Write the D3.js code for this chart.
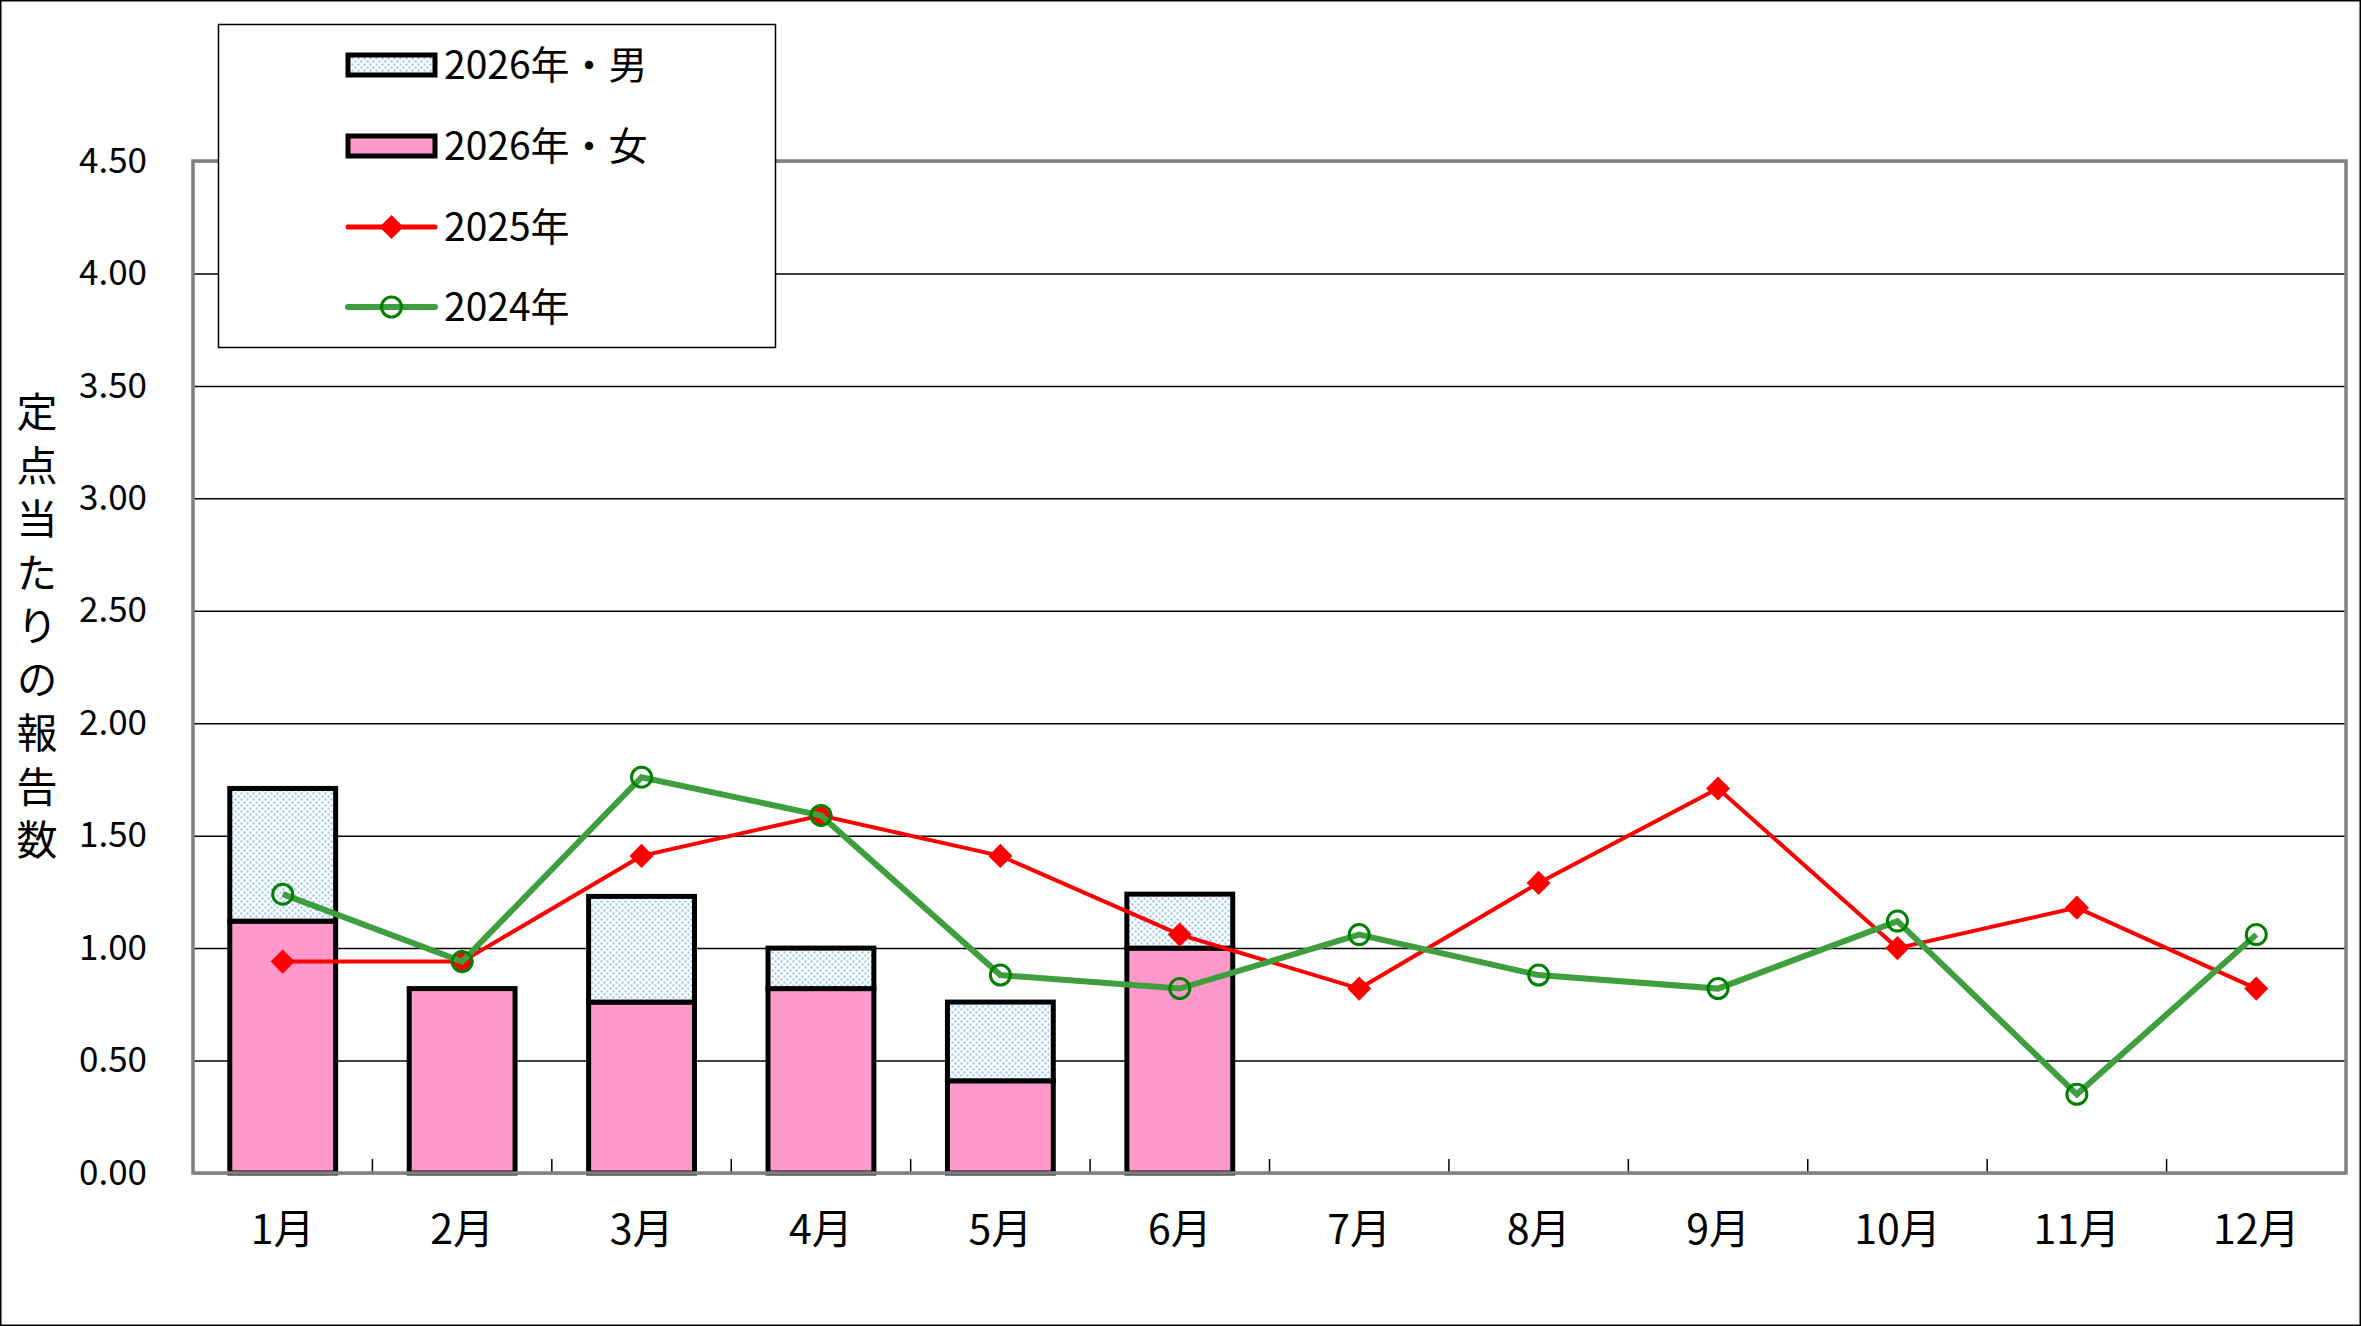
<!DOCTYPE html>
<html>
<head>
<meta charset="utf-8">
<script src="https://cdn.jsdelivr.net/npm/d3@7"></script>
<style>
  html, body { margin: 0; padding: 0; background: #fff; }
  svg { display: block; font-family: "Noto Sans CJK JP", "Noto Sans", sans-serif; }
</style>
</head>
<body>
<svg id="chart"></svg>
<script>
const months = ['1月', '2月', '3月', '4月', '5月', '6月', '7月', '8月', '9月', '10月', '11月', '12月']
// 2026 stacked bars (only Jan-Jun reported)
const female2026 = [1.12, 0.82, 0.76, 0.82, 0.41, 1.00]
const male2026 = [0.59, 0, 0.47, 0.18, 0.35, 0.24]
const line2025 = [0.94, 0.94, 1.41, 1.59, 1.41, 1.06, 0.82, 1.29, 1.71, 1.00, 1.18, 0.82]
const line2024 = [1.24, 0.94, 1.76, 1.59, 0.88, 0.82, 1.06, 0.88, 0.82, 1.12, 0.35, 1.06]
const yTicks = [0, 0.5, 1, 1.5, 2, 2.5, 3, 3.5, 4, 4.5]
const legendLabels = ['2026年・男', '2026年・女', '2025年', '2024年']

let width = 2361
let height = 1326
let plotLeft = 193
let plotRight = 2346
let plotTop = 161
let plotBottom = 1173

let svg = d3.select('#chart')
  .attr('width', width)
  .attr('height', height)

// pattern for the dotted blue segment
let defs = svg.append('defs')
let pat = defs.append('pattern')
    .attr('id', 'dots')
    .attr('patternUnits', 'userSpaceOnUse')
    .attr('width', 6)
    .attr('height', 6)
pat.append('rect').attr('width', 6).attr('height', 6).attr('fill', '#fff')
pat.append('circle').attr('cx', 1.5).attr('cy', 1.5).attr('r', 1.3).attr('fill', '#9fcdf7')
pat.append('circle').attr('cx', 4.5).attr('cy', 4.5).attr('r', 1.3).attr('fill', '#9fcdf7')

// outer frame
svg.append('rect')
    .attr('x', 0.75).attr('y', 0.75)
    .attr('width', width - 1.5).attr('height', height - 1.5)
    .attr('fill', '#fff')
    .attr('stroke', '#000')
    .attr('stroke-width', 1.5)

let xScale = d3.scaleBand()
    .domain(months)
    .range([plotLeft, plotRight])
    .paddingInner(0.41)
    .paddingOuter(0.205)

let yScale = d3.scaleLinear()
    .domain([0, 4.5])
    .range([plotBottom, plotTop])

// gridlines
let yAxis = d3.axisLeft(yScale)
    .tickValues(yTicks)
    .tickSize(-(plotRight - plotLeft))
    .tickFormat(d3.format('.2f'))
    .tickPadding(46)

let yG = svg.append('g')
    .attr('transform', `translate(${plotLeft}, 0)`)
    .call(yAxis)
yG.select('.domain').remove()
yG.selectAll('line').attr('stroke', '#000').attr('stroke-width', 1.5)
yG.selectAll('text')
    .style('font-size', '35px')
    .style('font-family', '"Noto Sans CJK JP", sans-serif')
    .attr('fill', '#000')

// x tick marks at band boundaries
let step = xScale.step()
svg.append('g')
  .selectAll('line')
  .data(months.slice(1))
  .enter()
  .append('line')
    .attr('x1', (d, i) => plotLeft + step * (i + 1))
    .attr('x2', (d, i) => plotLeft + step * (i + 1))
    .attr('y1', plotBottom)
    .attr('y2', plotBottom - 14)
    .attr('stroke', '#000')
    .attr('stroke-width', 1.5)

// x labels
svg.append('g')
  .selectAll('text')
  .data(months)
  .enter()
  .append('text')
    .attr('x', d => xScale(d) + xScale.bandwidth() / 2)
    .attr('y', 1230)
    .attr('dy', '0.35em')
    .style('text-anchor', 'middle')
    .style('font-size', '41px')
    .text(d => d)

// stacked bars
let barRows = female2026.map((f, i) => ({ month: months[i], female: f, male: male2026[i] }))
let stack = d3.stack().keys(['female', 'male'])(barRows)
let fills = { female: '#ff99cc', male: 'url(#dots)' }

svg.append('g')
  .selectAll('g')
  .data(stack)
  .enter()
  .append('g')
    .attr('fill', d => fills[d.key])
  .selectAll('rect')
  .data(d => d.filter(s => s[1] - s[0] > 0))
  .enter()
  .append('rect')
    .attr('x', d => xScale(d.data.month))
    .attr('width', xScale.bandwidth())
    .attr('y', d => yScale(d[1]))
    .attr('height', d => yScale(d[0]) - yScale(d[1]))
    .attr('stroke', '#000')
    .attr('stroke-width', 5)

// plot area border
svg.append('rect')
    .attr('x', plotLeft).attr('y', plotTop)
    .attr('width', plotRight - plotLeft).attr('height', plotBottom - plotTop)
    .attr('fill', 'none')
    .attr('stroke', '#808080')
    .attr('stroke-width', 3.5)

let cx = (d, i) => xScale(months[i]) + xScale.bandwidth() / 2
let line = d3.line()
    .x(cx)
    .y(d => yScale(d))

// 2025 line
svg.append('path')
    .datum(line2025)
    .attr('d', line)
    .attr('fill', 'none')
    .attr('stroke', '#ff0000')
    .attr('stroke-width', 4)

let diamond = d3.symbol().type(d3.symbolSquare).size(290)
svg.append('g')
  .selectAll('path')
  .data(line2025)
  .enter()
  .append('path')
    .attr('d', diamond)
    .attr('transform', (d, i) => `translate(${cx(d, i)}, ${yScale(d)}) rotate(45)`)
    .attr('fill', '#ff0000')

// 2024 line
svg.append('path')
    .datum(line2024)
    .attr('d', line)
    .attr('fill', 'none')
    .attr('stroke', '#3f9f3f')
    .attr('stroke-width', 6)

svg.append('g')
  .selectAll('circle')
  .data(line2024)
  .enter()
  .append('circle')
    .attr('cx', cx)
    .attr('cy', d => yScale(d))
    .attr('r', 10)
    .attr('fill', 'none')
    .attr('stroke', '#008000')
    .attr('stroke-width', 3)

// y-axis title, written vertically
svg.append('text')
    .attr('x', 37)
    .attr('y', 391)
    .style('writing-mode', 'vertical-rl')
    .style('letter-spacing', '12.5px')
    .style('font-size', '41px')
    .text('定点当たりの報告数')

// legend
let lg = svg.append('g')
lg.append('rect')
    .attr('x', 218.5).attr('y', 24.5)
    .attr('width', 557).attr('height', 323)
    .attr('fill', '#fff')
    .attr('stroke', '#000')
    .attr('stroke-width', 1.5)

let rowY = [65, 146, 227, 307]
let sw0 = 348
let sw1 = 435

lg.append('rect')
    .attr('x', sw0).attr('y', rowY[0] - 10)
    .attr('width', sw1 - sw0).attr('height', 20)
    .attr('fill', 'url(#dots)')
    .attr('stroke', '#000').attr('stroke-width', 5)
lg.append('rect')
    .attr('x', sw0).attr('y', rowY[1] - 10)
    .attr('width', sw1 - sw0).attr('height', 20)
    .attr('fill', '#ff99cc')
    .attr('stroke', '#000').attr('stroke-width', 5)
lg.append('line')
    .attr('x1', sw0).attr('x2', sw1)
    .attr('y1', rowY[2]).attr('y2', rowY[2])
    .attr('stroke', '#ff0000').attr('stroke-width', 5).attr('stroke-linecap', 'round')
lg.append('path')
    .attr('d', diamond)
    .attr('transform', `translate(${(sw0 + sw1) / 2}, ${rowY[2]}) rotate(45)`)
    .attr('fill', '#ff0000')
lg.append('line')
    .attr('x1', sw0).attr('x2', sw1)
    .attr('y1', rowY[3]).attr('y2', rowY[3])
    .attr('stroke', '#3f9f3f').attr('stroke-width', 6).attr('stroke-linecap', 'round')
lg.append('circle')
    .attr('cx', (sw0 + sw1) / 2).attr('cy', rowY[3])
    .attr('r', 10)
    .attr('fill', 'none')
    .attr('stroke', '#008000').attr('stroke-width', 3)

lg.selectAll('text.lbl')
  .data(legendLabels)
  .enter()
  .append('text')
    .attr('class', 'lbl')
    .attr('x', 444)
    .attr('y', (d, i) => rowY[i])
    .attr('dy', '0.36em')
    .style('font-size', '39px')
    .text(d => d)
</script>
</body>
</html>
